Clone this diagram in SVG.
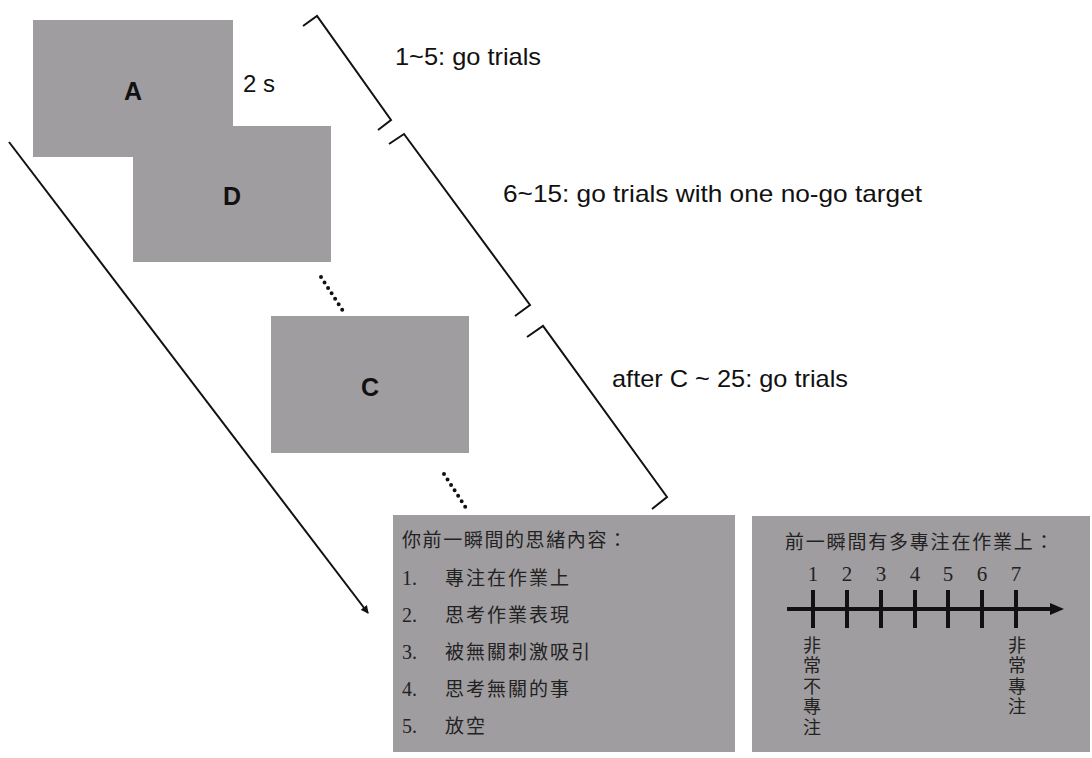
<svg xmlns="http://www.w3.org/2000/svg" width="1092" height="758" viewBox="0 0 1092 758">
<style>
.scr{fill:#a09da0}
.big{font-family:"Liberation Sans",Arial,sans-serif;font-weight:bold;font-size:25px;fill:#111;text-anchor:middle}
.lab{font-family:"Liberation Sans",Arial,sans-serif;font-size:24px;fill:#111}
.br{fill:none;stroke:#111;stroke-width:2;stroke-linejoin:miter}
.dots{stroke:#111;stroke-width:4;stroke-linecap:round;stroke-dasharray:0 6.5}
.cjk{font-family:"Liberation Serif","Noto Sans CJK TC",serif;font-size:19px;fill:#222}
.n{font-family:"Liberation Serif",serif;font-size:20px;fill:#222}
.num{font-family:"Liberation Serif",serif;font-size:21px;fill:#222;text-anchor:middle}
.vt{font-family:"Noto Sans CJK TC",sans-serif;font-size:18px;fill:#222;writing-mode:vertical-rl;letter-spacing:2.5px}
.tick{stroke:#111;stroke-width:4}
</style>
<defs>
<marker id="ah" markerWidth="8" markerHeight="8" refX="7" refY="4" orient="auto" markerUnits="userSpaceOnUse">
<path d="M0,0 L8,4 L0,8 z" fill="#111"/>
</marker>
<marker id="ah2" markerWidth="14" markerHeight="12" refX="2" refY="6" orient="auto" markerUnits="userSpaceOnUse">
<path d="M0,0 L14,6 L0,12 z" fill="#111"/>
</marker>
</defs>
<rect width="1092" height="758" fill="#fff"/>
<g id="screenA"><rect class="scr" x="33" y="20" width="200" height="137"/><text class="big" x="133" y="100">A</text></g>
<g id="screenD"><rect class="scr" x="133" y="126" width="198" height="136"/><text class="big" x="232" y="205">D</text></g>
<g id="screenC"><rect class="scr" x="271" y="316" width="198" height="137"/><text class="big" x="370" y="396">C</text></g>
<text class="lab" x="243" y="92" font-size="26">2 s</text>
<g id="connectors">
<line x1="9" y1="142" x2="368" y2="613" stroke="#111" stroke-width="2" marker-end="url(#ah)"/>
<path class="br" d="M303,26 L317,16 L391,120 L378,130"/>
<path class="br" d="M389,144 L404,134 L530,305 L515,316"/>
<path class="br" d="M527,337 L543,326 L667,497 L652,509"/>
<line class="dots" x1="321" y1="277" x2="343" y2="311"/>
<line class="dots" x1="444" y1="474" x2="466" y2="508"/>
</g>
<text class="lab" x="395" y="65" textLength="146" lengthAdjust="spacingAndGlyphs">1~5: go trials</text>
<text class="lab" x="503" y="202" textLength="419" lengthAdjust="spacingAndGlyphs">6~15: go trials with one no-go target</text>
<text class="lab" x="612" y="387" textLength="236" lengthAdjust="spacingAndGlyphs">after C ~ 25: go trials</text>
<g id="probe1">
<rect class="scr" x="393" y="515" width="342" height="237"/>
<text class="cjk" x="402" y="547" letter-spacing="1.6">你前一瞬間的思緒內容：</text>
<text class="n" x="402" y="585">1.</text><text class="cjk" x="445" y="585" letter-spacing="2">專注在作業上</text>
<text class="n" x="402" y="622">2.</text><text class="cjk" x="445" y="622" letter-spacing="2">思考作業表現</text>
<text class="n" x="402" y="659">3.</text><text class="cjk" x="445" y="659" letter-spacing="2">被無關刺激吸引</text>
<text class="n" x="402" y="696">4.</text><text class="cjk" x="445" y="696" letter-spacing="2">思考無關的事</text>
<text class="n" x="402" y="733">5.</text><text class="cjk" x="445" y="733" letter-spacing="2">放空</text>
</g>
<g id="probe2">
<rect class="scr" x="752" y="516" width="338" height="236"/>
<text class="cjk" x="785" y="549" letter-spacing="1.8">前一瞬間有多專注在作業上：</text>
<text class="num" x="813" y="581">1</text>
<text class="num" x="847" y="581">2</text>
<text class="num" x="881" y="581">3</text>
<text class="num" x="915" y="581">4</text>
<text class="num" x="948" y="581">5</text>
<text class="num" x="982" y="581">6</text>
<text class="num" x="1016" y="581">7</text>
<line x1="787" y1="609" x2="1052" y2="609" stroke="#111" stroke-width="4" marker-end="url(#ah2)"/>
<line class="tick" x1="813" y1="590" x2="813" y2="628"/>
<line class="tick" x1="847" y1="590" x2="847" y2="628"/>
<line class="tick" x1="881" y1="590" x2="881" y2="628"/>
<line class="tick" x1="915" y1="590" x2="915" y2="628"/>
<line class="tick" x1="948" y1="590" x2="948" y2="628"/>
<line class="tick" x1="982" y1="590" x2="982" y2="628"/>
<line class="tick" x1="1016" y1="590" x2="1016" y2="628"/>
<text class="vt" x="812" y="636">非常不專注</text>
<text class="vt" x="1017" y="636">非常專注</text>
</g>
</svg>
